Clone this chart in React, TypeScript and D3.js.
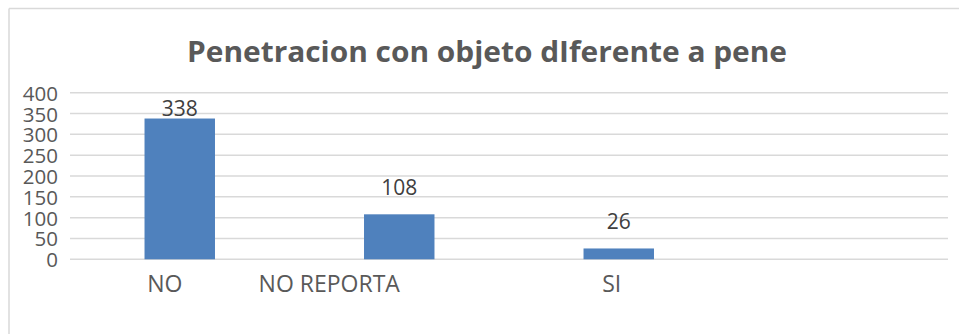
import React from "react";
import * as d3 from "d3";

// Chart data
const categories: string[] = ["NO", "NO REPORTA", "SI", ""];
const values: (number | null)[] = [338, 108, 26, null];
const yTicks: number[] = [0, 50, 100, 150, 200, 250, 300, 350, 400];
const title = "Penetracion con objeto dIferente a pene";

// Layout
const W = 959;
const H = 334;
const plotLeft = 70;
const plotRight = 948;
const plotTop = 92.7;
const plotBottom = 259.3;
// horizontal nudge of each category label relative to its band centre
const labelShift = [-15, -70, -7, 0];

const FONT = "'Open Sans', 'Noto Sans', sans-serif";

export default function App() {
  const x = d3
    .scaleBand<string>()
    .domain(categories.map((c, i) => `${i}`))
    .range([plotLeft, plotRight])
    .paddingInner(0.679)
    .paddingOuter(0.3395);

  const y = d3.scaleLinear().domain([0, 400]).range([plotBottom, plotTop]);

  return (
    <svg
      width={W}
      height={H}
      style={{ position: "absolute", left: 0, top: 0, background: "#fff" }}
    >
      {/* chart frame */}
      <line x1={9} y1={8.5} x2={W} y2={8.5} stroke="#d9d9d9" strokeWidth={1.5} />
      <line x1={9} y1={8.5} x2={9} y2={H} stroke="#d9d9d9" strokeWidth={1.5} />

      <text
        x={487}
        y={62.3}
        textAnchor="middle"
        fontFamily={FONT}
        fontWeight={700}
        fontSize={28}
        fill="#595959"
        textLength={600}
        lengthAdjust="spacingAndGlyphs"
      >
        {title}
      </text>

      {/* gridlines and y labels */}
      {yTicks.map((t) => (
        <g key={t}>
          <line
            x1={plotLeft}
            x2={plotRight}
            y1={y(t)}
            y2={y(t)}
            stroke="#d9d9d9"
            strokeWidth={1.5}
          />
          <text
            x={58}
            y={y(t) + 8}
            textAnchor="end"
            fontFamily={FONT}
            fontSize={20.5}
            fill="#595959"
          >
            {t}
          </text>
        </g>
      ))}

      {/* bars */}
      {categories.map((c, i) => {
        const v = values[i];
        if (v == null) return null;
        const bx = x(`${i}`)!;
        const top = y(v);
        const labelY = Math.max(top - 19, y(400) + 23.3);
        return (
          <g key={i}>
            <rect
              x={bx}
              y={top}
              width={x.bandwidth()}
              height={plotBottom - top}
              fill="#4f81bd"
            />
            <text
              x={bx + x.bandwidth() / 2}
              y={labelY}
              textAnchor="middle"
              fontFamily={FONT}
              fontSize={21}
              fill="#404040"
            >
              {v}
            </text>
          </g>
        );
      })}

      {/* category labels */}
      {categories.map((c, i) => (
        <text
          key={i}
          x={x(`${i}`)! + x.bandwidth() / 2 + labelShift[i]}
          y={292.3}
          textAnchor="middle"
          fontFamily={FONT}
          fontSize={23}
          fill="#595959"
        >
          {c}
        </text>
      ))}
    </svg>
  );
}
